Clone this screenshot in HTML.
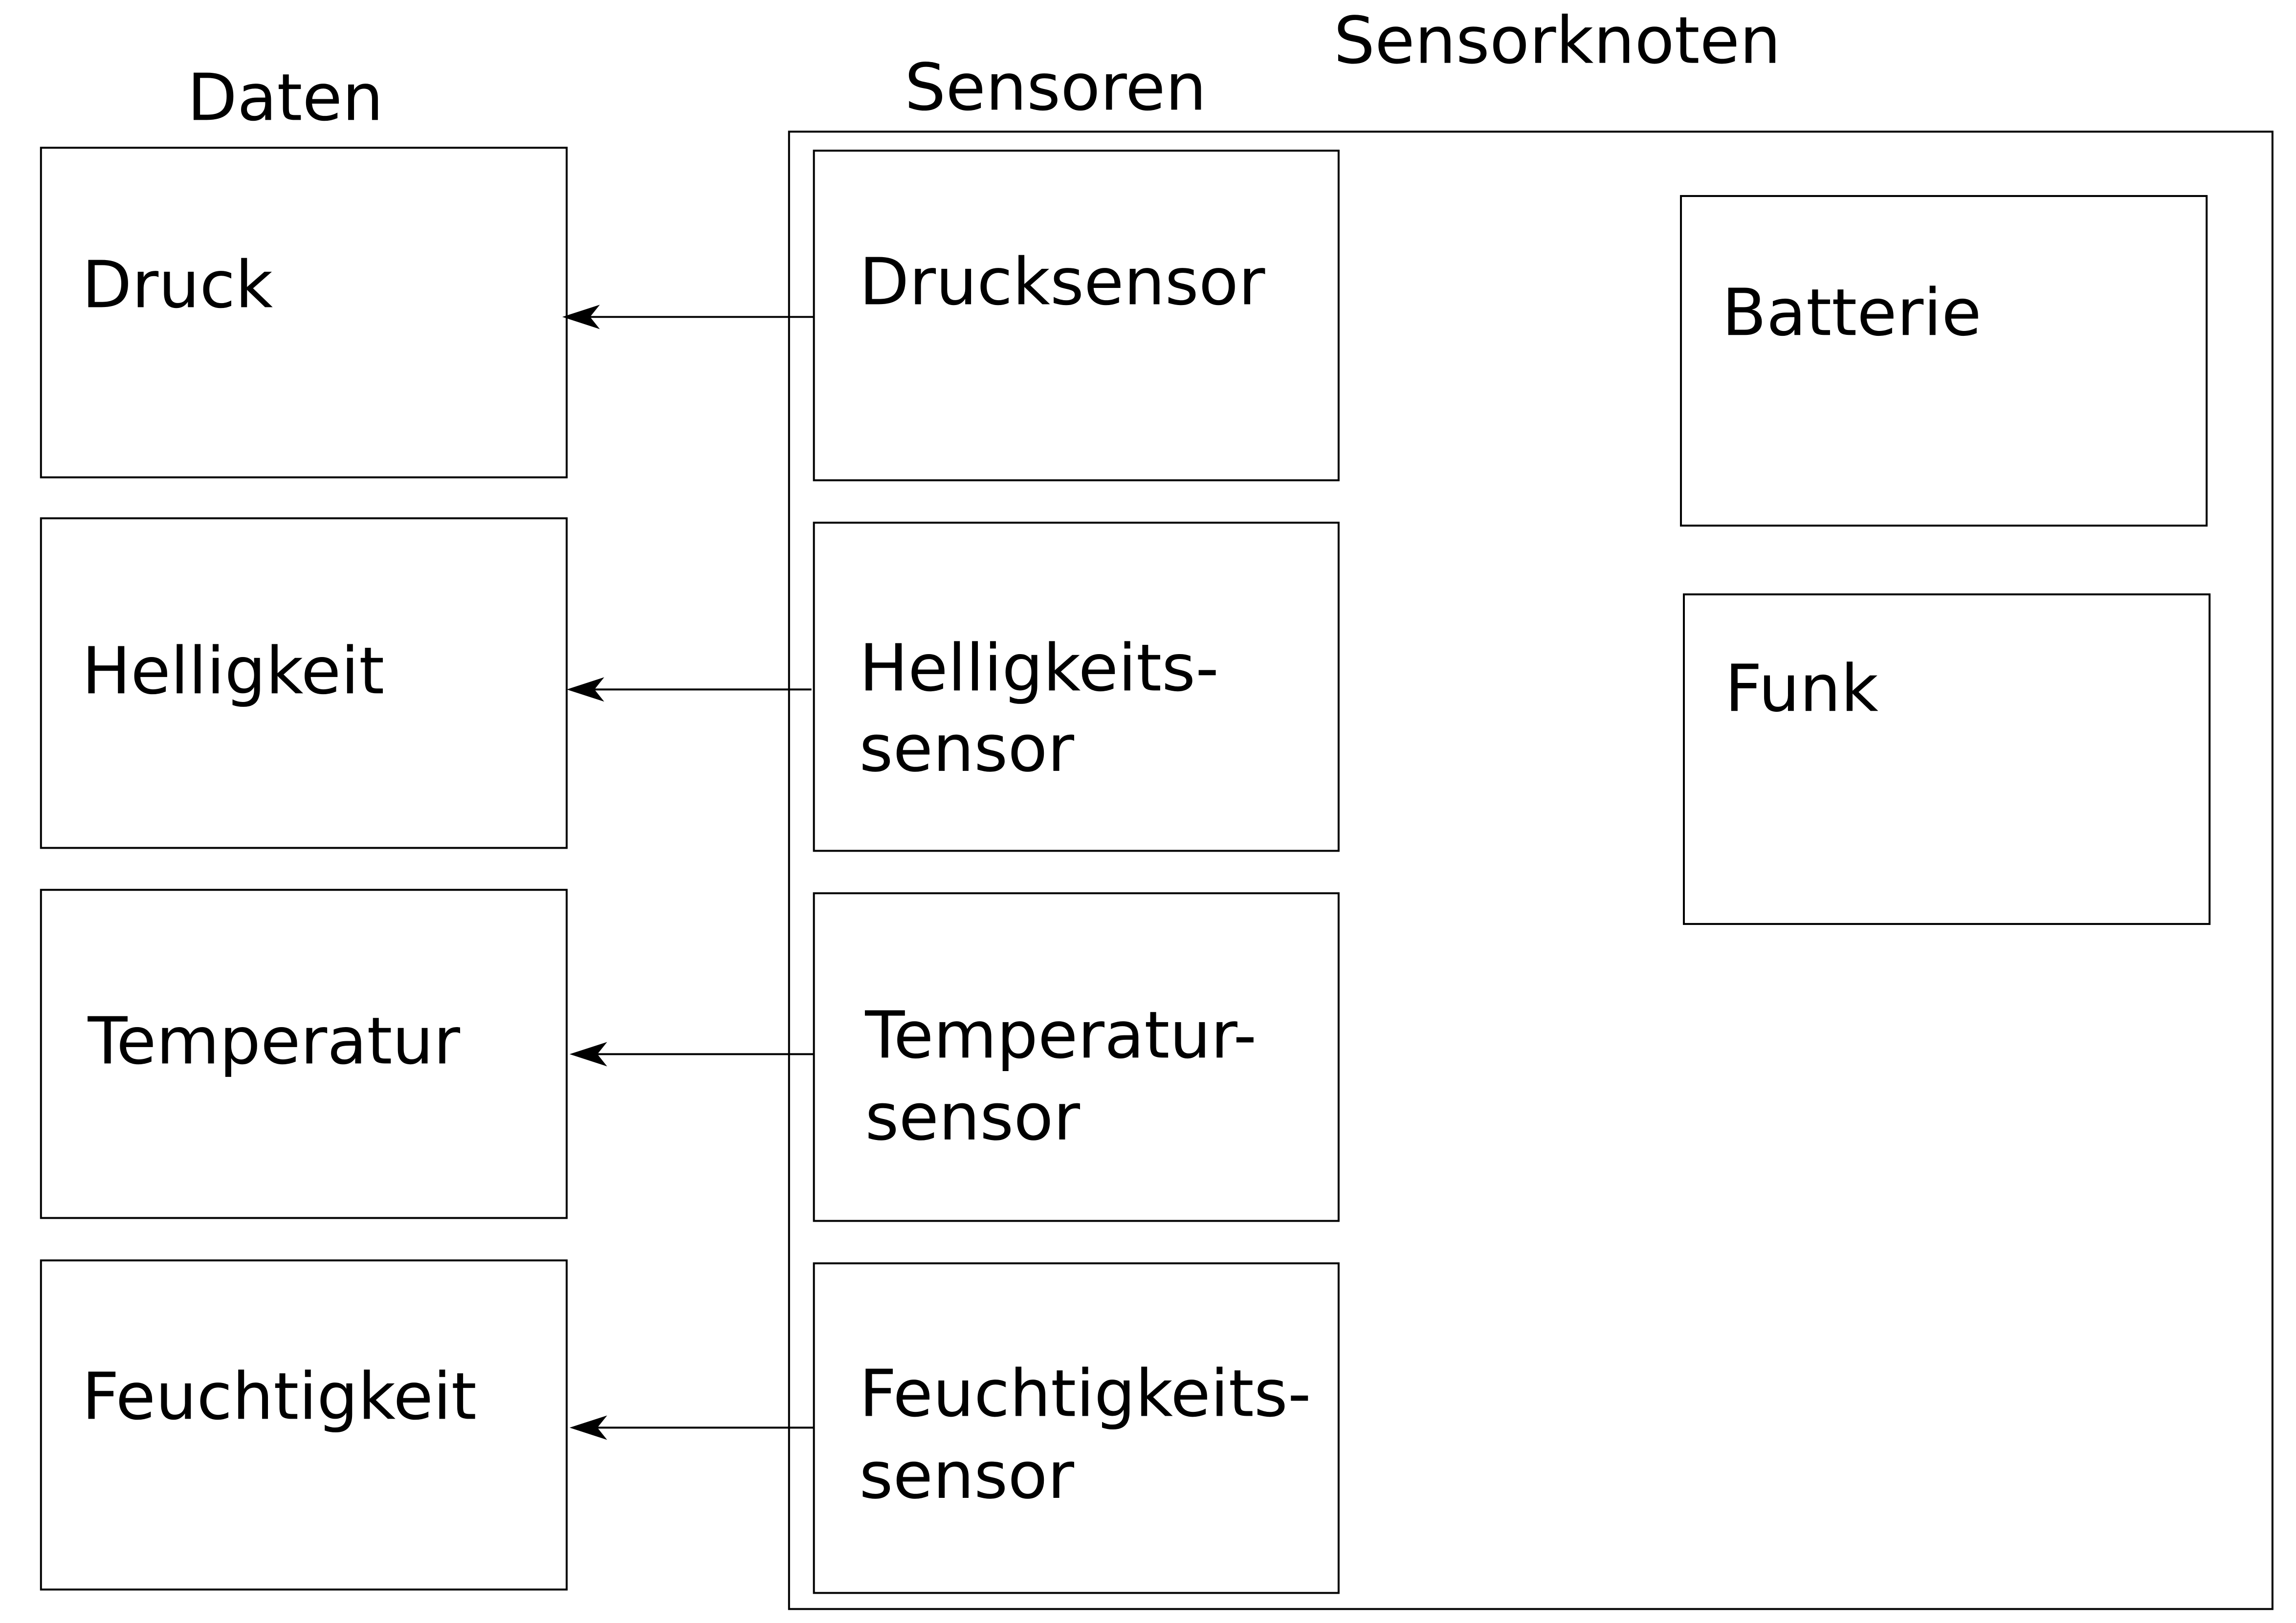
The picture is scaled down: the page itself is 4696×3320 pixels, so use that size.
<!DOCTYPE html>
<html><head><style>html,body{margin:0;padding:0;background:#fff}svg{display:block}</style></head>
<body>
<svg width="4696" height="3320" xmlns="http://www.w3.org/2000/svg" font-family="DejaVu Sans, Liberation Sans, sans-serif" font-size="133" fill="#000">
<g transform="scale(0.9974)">
<g fill="none" stroke="#000" stroke-width="4">
<rect x="1618" y="270" width="3042" height="3030"/>
<rect x="84" y="303" width="1078" height="676"/>
<rect x="84" y="1063" width="1078" height="676"/>
<rect x="84" y="1825" width="1078" height="673"/>
<rect x="84" y="2585" width="1078" height="675"/>
<rect x="1669" y="309" width="1076" height="676"/>
<rect x="1669" y="1072" width="1076" height="673"/>
<rect x="1669" y="1832" width="1076" height="672"/>
<rect x="1669" y="2591" width="1076" height="676"/>
<rect x="3447" y="402" width="1078" height="676"/>
<rect x="3453" y="1219" width="1078" height="676"/>
<line x1="1669" y1="650" x2="1190" y2="650"/>
<line x1="1664" y1="1414" x2="1195" y2="1414"/>
<line x1="1669" y1="2162" x2="1200" y2="2162"/>
<line x1="1669" y1="2928" x2="1200" y2="2928"/>
</g>
<path d="M1153 650 L1230 625 L1210 650 L1230 675 Z"/>
<path d="M1162 1414 L1239 1389 L1219 1414 L1239 1439 Z"/>
<path d="M1168 2162 L1245 2137 L1225 2162 L1245 2187 Z"/>
<path d="M1168 2928 L1245 2903 L1225 2928 L1245 2953 Z"/>
<text x="384" y="246">Daten</text>
<text x="1855" y="225">Sensoren</text>
<text x="2735" y="129">Sensorknoten</text>
<text x="168" y="630">Druck</text>
<text x="168" y="1422">Helligkeit</text>
<text x="180" y="2181">Temperatur</text>
<text x="168" y="2910">Feuchtigkeit</text>
<text x="1762" y="624">Drucksensor</text>
<text x="1762" y="1416">Helligkeits-</text>
<text x="1762" y="1581">sensor</text>
<text x="1774" y="2169">Temperatur-</text>
<text x="1774" y="2337">sensor</text>
<text x="1762" y="2904">Feuchtigkeits-</text>
<text x="1762" y="3072">sensor</text>
<text x="3531" y="687">Batterie</text>
<text x="3537" y="1458">Funk</text>
</g>
</svg>
</body></html>
